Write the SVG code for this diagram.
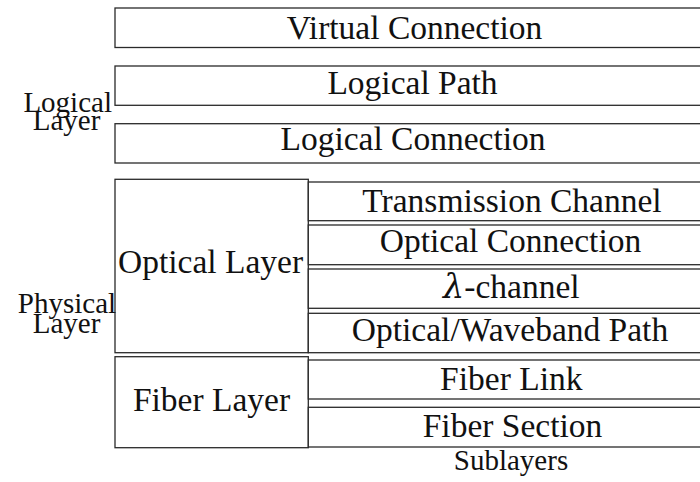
<svg xmlns="http://www.w3.org/2000/svg" width="700" height="482" viewBox="0 0 700 482">
  <style>
    .box { fill: #ffffff; stroke: #2a2a2a; stroke-width: 1.3; }
    .lbl { font-size: 33.5px; fill: #111111; text-anchor: middle; }
    .side { font-size: 29px; fill: #111111; text-anchor: middle; }
  </style>
  <rect x="0" y="0" width="700" height="482" fill="#ffffff"/>

  <g font-family="Times New Roman">
    <!-- logical layer -->
    <g id="virtual-connection">
      <rect class="box" x="115" y="8" width="599" height="39.5"/>
      <text class="lbl" x="414.5" y="39.3">Virtual Connection</text>
    </g>
    <g id="logical-path">
      <rect class="box" x="115" y="66" width="599" height="39.3"/>
      <text class="lbl" x="412.5" y="93.6">Logical Path</text>
    </g>
    <g id="logical-connection">
      <rect class="box" x="115" y="123.7" width="599" height="39.3"/>
      <text class="lbl" x="413" y="150">Logical Connection</text>
    </g>
    <g id="logical-layer-label">
      <text class="side" x="67.7" y="111.7">Logical</text>
      <text class="side" x="66.5" y="130">Layer</text>
    </g>

    <!-- physical layer: optical part -->
    <g id="optical-layer">
      <rect class="box" x="115" y="179.3" width="193.3" height="173.4"/>
      <text class="lbl" x="210.5" y="273.3">Optical Layer</text>
    </g>
    <g id="transmission-channel">
      <rect class="box" x="308.3" y="182" width="405.7" height="38.7"/>
      <text class="lbl" x="512" y="211.7">Transmission Channel</text>
    </g>
    <g id="optical-connection">
      <rect class="box" x="308.3" y="225" width="405.7" height="39.7"/>
      <text class="lbl" x="510.5" y="251.7">Optical Connection</text>
    </g>
    <g id="lambda-channel">
      <rect class="box" x="308.3" y="269" width="405.7" height="39.3"/>
      <text class="lbl" x="511.3" y="298.3"><tspan font-family="DejaVu Serif" font-style="italic">λ</tspan>-channel</text>
    </g>
    <g id="optical-waveband-path">
      <rect class="box" x="308.3" y="313.3" width="405.7" height="39.4"/>
      <text class="lbl" x="510" y="340.7">Optical/Waveband Path</text>
    </g>

    <!-- physical layer: fiber part -->
    <g id="fiber-layer">
      <rect class="box" x="115" y="356.7" width="193.3" height="91"/>
      <text class="lbl" x="211.5" y="410.7">Fiber Layer</text>
    </g>
    <g id="fiber-link">
      <rect class="box" x="308.3" y="360" width="405.7" height="39"/>
      <text class="lbl" x="511.3" y="390">Fiber Link</text>
    </g>
    <g id="fiber-section">
      <rect class="box" x="308.3" y="407.3" width="405.7" height="39.7"/>
      <text class="lbl" x="512.5" y="436.7">Fiber Section</text>
    </g>

    <g id="physical-layer-label">
      <text class="side" x="67" y="313.3">Physical</text>
      <text class="side" x="66.5" y="332.7">Layer</text>
    </g>
    <g id="sublayers-label">
      <text class="side" x="511" y="470">Sublayers</text>
    </g>
  </g>

  <g id="connectors"></g>
</svg>
